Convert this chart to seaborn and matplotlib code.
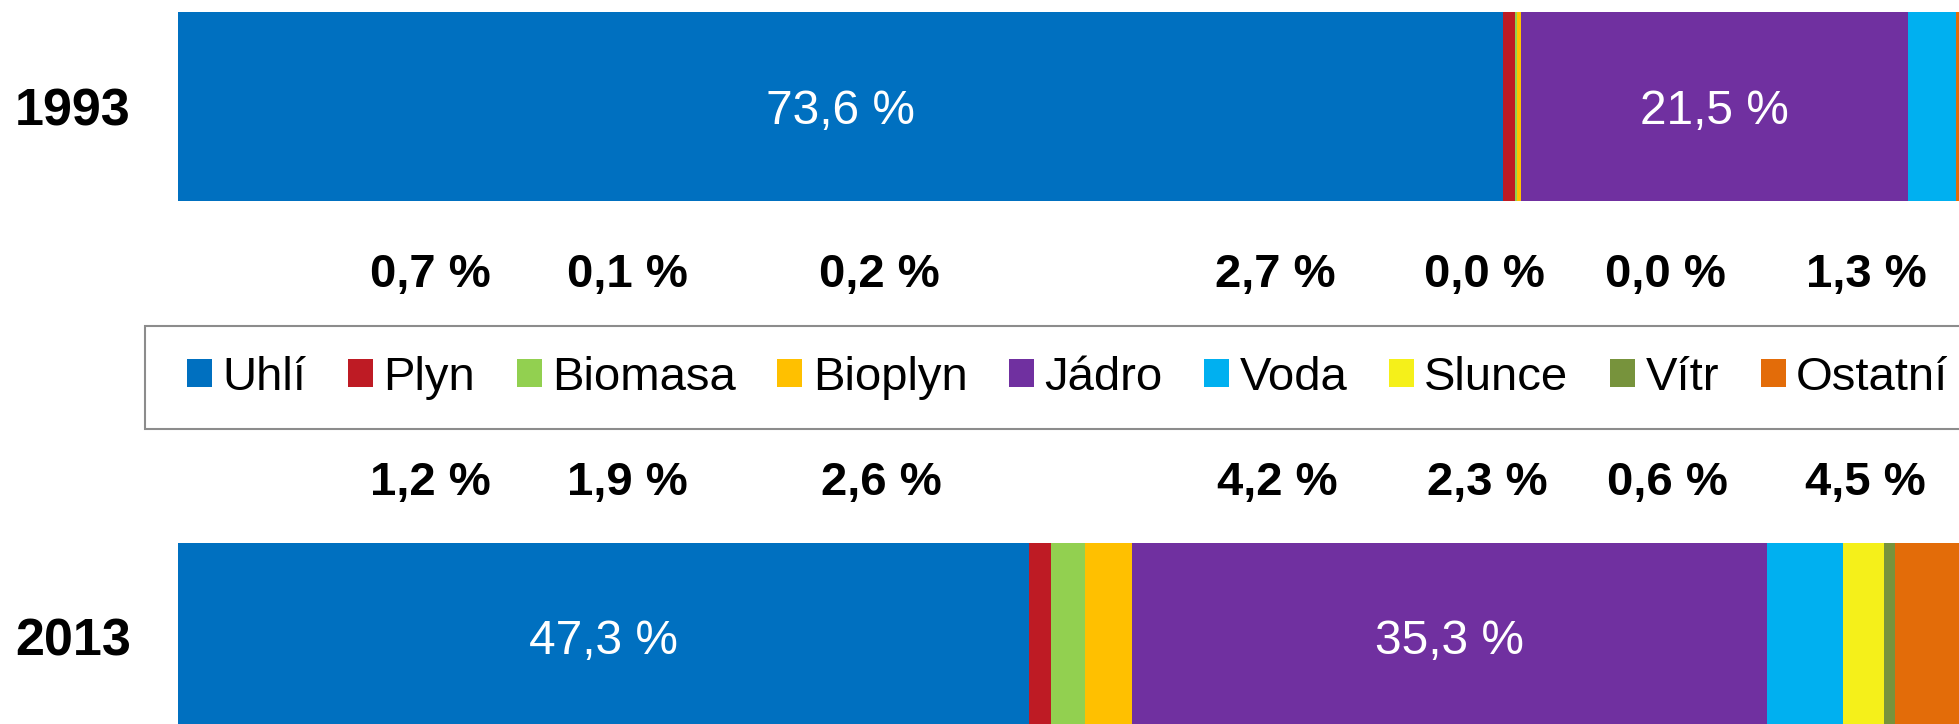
import matplotlib
matplotlib.use("Agg")
import matplotlib.pyplot as plt
import seaborn as sns
import numpy as np
import pandas as pd
from matplotlib.patches import Patch, Rectangle

# ---- data ----
years = ["1993", "2013"]
sources = ["Uhlí", "Plyn", "Biomasa", "Bioplyn", "Jádro", "Voda", "Slunce", "Vítr", "Ostatní"]
values_1993 = [73.6, 0.7, 0.1, 0.2, 21.5, 2.7, 0.0, 0.0, 1.3]
values_2013 = [47.3, 1.2, 1.9, 2.6, 35.3, 4.2, 2.3, 0.6, 4.5]
colors = ["#0070C0", "#BE1B24", "#92D050", "#FFC000", "#7030A0",
          "#00B0F0", "#F5F01A", "#77933C", "#E36C09"]
in_bar_labels = ["Uhlí", "Jádro"]
outside_labels = ["Plyn", "Biomasa", "Bioplyn", "Voda", "Slunce", "Vítr", "Ostatní"]

sns.set_style("white")
plt.rcParams["font.family"] = ["Liberation Sans", "DejaVu Sans"]
plt.rcParams["text.color"] = "black"

W, H = 1959, 724
fig = plt.figure(figsize=(W / 100, H / 100), dpi=100)
ax = fig.add_axes([178 / W, 0, 1 - 178 / W, 1])

df = pd.DataFrame({"year": np.repeat(years, len(sources)),
                   "source": sources * len(years),
                   "value": values_1993 + values_2013})
wide = df.pivot(index="year", columns="source", values="value")[sources].loc[years]
cum = wide.cumsum(axis=1)

# overlay cumulative bars from last to first to build stacks
for src, col in reversed(list(zip(sources, colors))):
    sns.barplot(x=cum[src].values, y=years, orient="h", color=col, saturation=1,
                width=189 / 531, linewidth=0, edgecolor="none", ax=ax, errorbar=None)

ax.set_xlim(0, (W - 178) / 18.0)
ax.set_ylim(1 + 87 / 531, -106 / 531)
for s in ax.spines.values():
    s.set_visible(False)
ax.set_xticks([])
ax.set_xlabel("")
ax.set_ylabel("")
ax.tick_params(axis="y", length=0, pad=34, colors="black")
for t in ax.get_yticklabels():
    t.set_fontsize(37.5)
    t.set_fontweight("bold")
    t.set_color("black")

def fmt(v):
    return f"{v:.1f}".replace(".", ",") + " %"

# in-bar labels
for i, y in enumerate(years):
    for src in in_bar_labels:
        start = cum.loc[y, src] - wide.loc[y, src]
        ax.text(start + wide.loc[y, src] / 2, i + 17.5 / 531, fmt(wide.loc[y, src]),
                ha="center", va="baseline", color="white", fontsize=34.5)

# legend frame + legend
fig.patches.append(Rectangle((145 / W, 1 - 429 / H), 2.0, 103 / H,
                             transform=fig.transFigure, facecolor="white",
                             edgecolor="#8C8C8C", linewidth=1.5, zorder=0))
handles = [Patch(facecolor=c, edgecolor="none", label=s) for s, c in zip(sources, colors)]
fig.legend(handles=handles, loc="center left", bbox_to_anchor=(187 / W, 1 - 377.5 / H),
           ncol=9, frameon=False, fontsize=34, handlelength=0.53, handleheight=0.53,
           handletextpad=0.22, columnspacing=0.88, borderpad=0, borderaxespad=0)

# outside labels above/below legend
label_x = {"1993": {"Plyn": 430, "Biomasa": 627, "Bioplyn": 879, "Voda": 1275,
                    "Slunce": 1484, "Vítr": 1665, "Ostatní": 1866},
           "2013": {"Plyn": 430, "Biomasa": 627, "Bioplyn": 881, "Voda": 1277,
                    "Slunce": 1487, "Vítr": 1667, "Ostatní": 1865}}
row_base = {"1993": 287, "2013": 495}
vals = {"1993": dict(zip(sources, values_1993)), "2013": dict(zip(sources, values_2013))}
for y in years:
    for src in outside_labels:
        fig.text(label_x[y][src] / W, 1 - row_base[y] / H, fmt(vals[y][src]),
                 ha="center", va="baseline", fontsize=34, fontweight="bold", color="black")

fig.savefig("out.png", dpi=100)
